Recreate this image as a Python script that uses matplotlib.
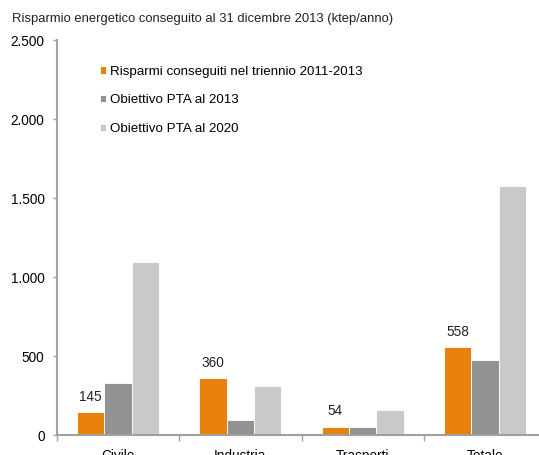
import matplotlib.pyplot as plt
import numpy as np

plt.rcParams["font.family"] = ["Liberation Sans", "DejaVu Sans"]

categories = ["Civile", "Industria", "Trasporti", "Totale"]
risparmi = [145, 360, 54, 558]
obiettivo_2013 = [330, 95, 50, 475]
obiettivo_2020 = [1100, 315, 160, 1575]

series_names = [
    "Risparmi conseguiti nel triennio 2011-2013",
    "Obiettivo PTA al 2013",
    "Obiettivo PTA al 2020",
]
colors = ["#E8820C", "#929292", "#C9C9C9"]
ytick_vals = [0, 500, 1000, 1500, 2000, 2500]
ytick_labels = ["0", "500", "1.000", "1.500", "2.000", "2.500"]

W, H = 539, 455
fig = plt.figure(figsize=(W / 100, H / 100), dpi=100)
ax = fig.add_axes([57 / W, (H - 435.3) / H, 489 / W, 395 / H])

x = np.arange(len(categories))
bw = 0.224
for i, (vals, name, c) in enumerate(zip([risparmi, obiettivo_2013, obiettivo_2020], series_names, colors)):
    bars = ax.bar(x + (i - 1) * bw, vals, bw, color=c, edgecolor="white", linewidth=0.6, label=name)
    if i == 0:
        for b, v in zip(bars, vals):
            ax.annotate(str(v), (b.get_x() + b.get_width() / 2, v), xytext=(0, 6),
                        textcoords="offset points", ha="center", va="bottom", fontsize=9.8, color="#222222")

ax.set_xlim(-0.5, len(categories) - 0.5)
ax.set_ylim(0, 2500)
ax.set_yticks(ytick_vals)
ax.set_yticklabels(ytick_labels)
ax.set_xticks(np.arange(len(categories) + 1) - 0.5, minor=False)
ax.set_xticklabels([""] * (len(categories) + 1))
ax.set_xticks(x, minor=True)
ax.set_xticklabels(categories, minor=True)
ax.tick_params(axis="x", which="minor", length=0, pad=10, labelsize=9.8)
ax.tick_params(axis="x", which="major", length=4, color="#A0A0A0", width=1)
ax.tick_params(axis="y", length=3, color="#A0A0A0", width=1, pad=6, labelsize=9.8)

for s in ["top", "right"]:
    ax.spines[s].set_visible(False)
for s in ["left", "bottom"]:
    ax.spines[s].set_color("#A0A0A0")
    ax.spines[s].set_linewidth(1.5)

ax.legend(loc="upper left", bbox_to_anchor=(0.063, 0.966), frameon=False, fontsize=9.6,
          handlelength=0.45, handleheight=0.45, handletextpad=0.3, labelspacing=1.25)

fig.text(12 / W, 1 - 19 / H, "Risparmio energetico conseguito al 31 dicembre 2013 (ktep/anno)",
         fontsize=9.35, va="center", ha="left", color="#222222")

fig.savefig("out.png", dpi=100)
